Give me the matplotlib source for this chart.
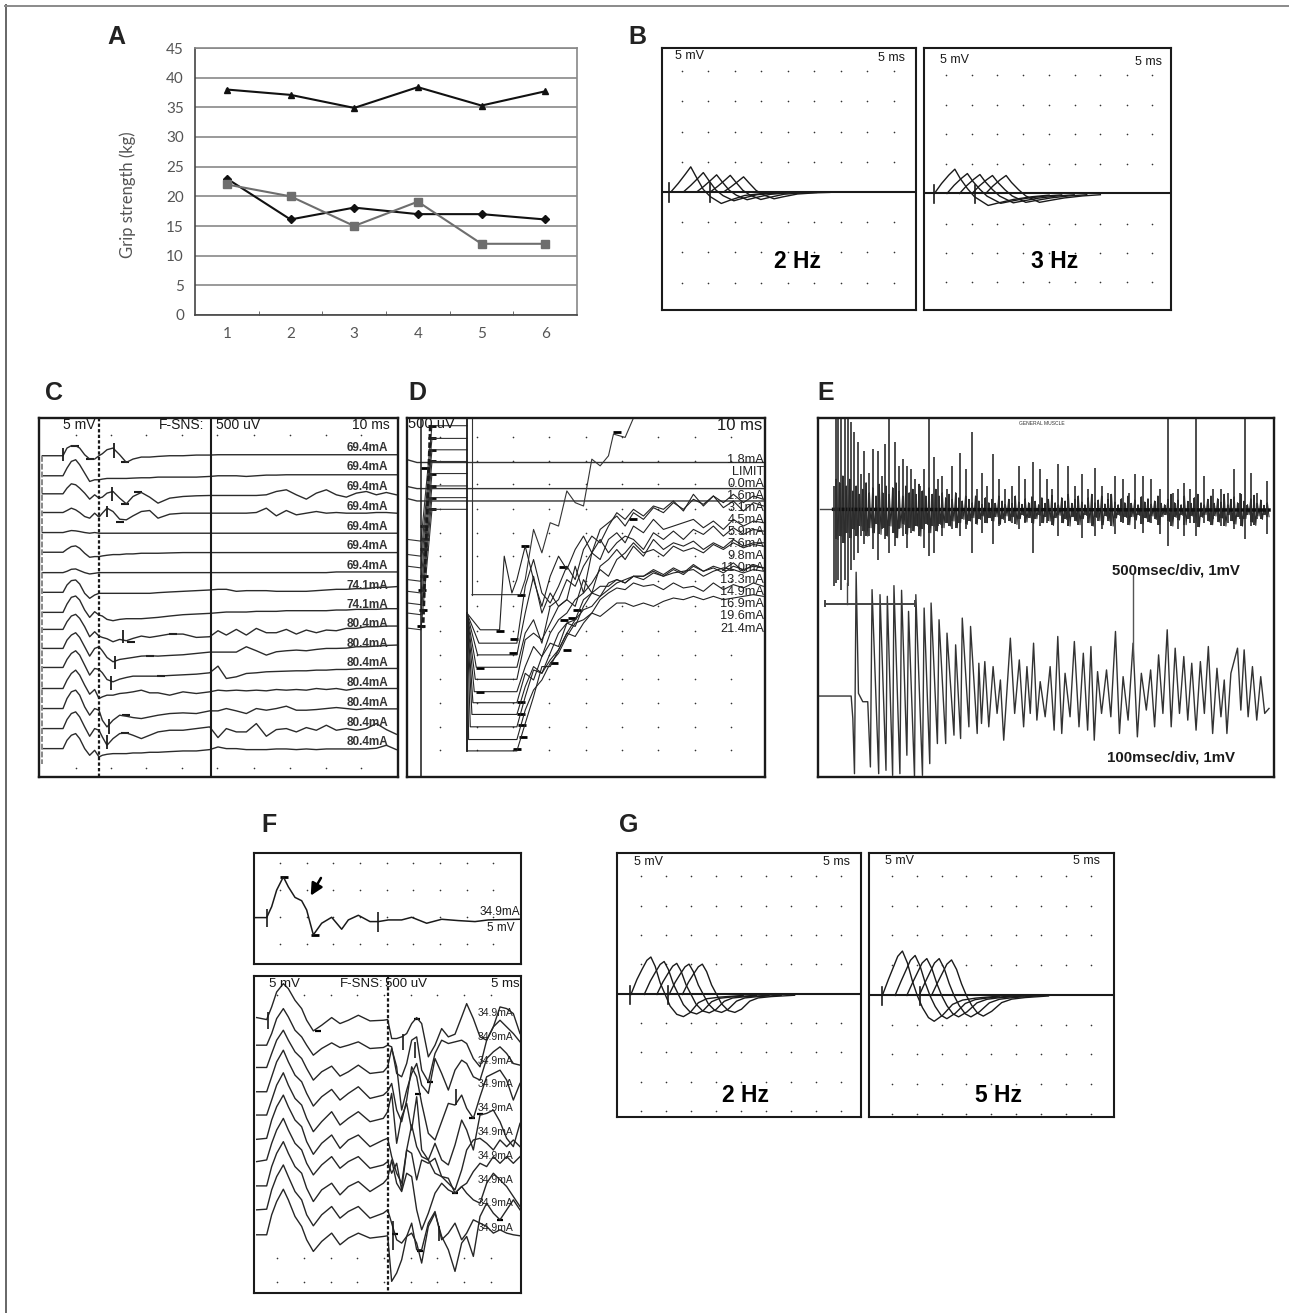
import matplotlib
matplotlib.use("Agg")
import matplotlib.pyplot as plt

W, H = 1289, 1313
INK = "#1a1a1a"
PLAIN = ["Liberation Sans", "DejaVu Sans"]

# Panel A
grip_x = [1, 2, 3, 4, 5, 6]
grip_triangle = [38, 37.1, 34.9, 38.4, 35.3, 37.7]
grip_diamond = [23, 16.1, 18.1, 17, 17, 16.1]
grip_square = [22, 20, 15, 19.1, 12, 12]

# Panels B and G: one wave, repeated at later latencies
b1_x = [145, 165, 185, 200, 215, 235, 255, 285, 310, 350, 400, 440]
b1_y = [515, 490, 462, 440, 470, 508, 530, 550, 540, 526, 520, 518]
b1_shift = [0, 35, 72, 110, 147]
b1_scale = [1, 0.77, 0.68, 0.66, 0.6]
b2_x = [880, 900, 920, 937, 952, 972, 992, 1030, 1060, 1100, 1150, 1200]
b2_y = [520, 490, 465, 447, 475, 505, 530, 556, 548, 538, 530, 525]
b2_shift = [0, 35, 70, 105, 143]
b2_scale = [1, 0.82, 0.78, 0.74, 0.74]
g1_x = [62, 80, 95, 110, 122, 135, 150, 165, 180, 200, 220, 240, 265, 290, 330, 400]
g1_y = [555, 510, 480, 452, 442, 470, 520, 555, 590, 615, 622, 610, 580, 568, 563, 558]
g1_shift = [0, 40, 78, 115, 155]
g1_scale = [1, 0.88, 0.83, 0.81, 0.81]
g2_x = [820, 838, 852, 866, 880, 895, 910, 925, 940, 958, 975, 1000, 1030, 1060, 1100, 1170]
g2_y = [558, 510, 475, 440, 424, 460, 515, 560, 595, 625, 636, 618, 585, 572, 566, 560]
g2_shift = [0, 38, 73, 110, 147]
g2_scale = [1, 0.9, 0.83, 0.83, 0.8]

b1_dots_x = [175, 248, 322, 396, 470, 544, 618, 692, 766]
b1_dots_y = [153, 243, 335, 425, 606, 697, 788]
b2_dots_x = [912, 984, 1055, 1127, 1199, 1271, 1343, 1416, 1488]
b2_dots_y = [165, 254, 342, 430, 612, 700, 785]
g1_dots_x = [92, 168, 243, 318, 393, 468, 545, 620, 695]
g1_dots_y = [198, 287, 375, 463, 640, 730, 820, 908]
g2_dots_x = [848, 923, 997, 1071, 1145, 1220, 1295, 1369, 1444]
g2_dots_y = [197, 287, 377, 466, 646, 736, 826, 917]

# Panel C
c_x = [38, 100, 112, 125, 138, 150, 165, 180, 195, 208,
       218, 232, 250, 270, 290, 310, 335, 360, 385, 420,
       460, 500, 540, 565, 590, 620, 650, 680, 710, 740,
       770, 800, 830, 860, 890, 920, 950, 980, 1010, 1040,
       1070, 1100]
c_traces = [
    [228, 228, 205, 198, 198, 205, 225, 238, 238, 228,
     222, 210, 205, 225, 248, 238, 232, 232, 230, 228,
     228, 226, 226, 225, 225, 225, 225, 225, 225, 225,
     225, 225, 225, 225, 225, 225, 225, 225, 225, 225,
     225, 225],
    [288, 288, 265, 245, 240, 255, 280, 305, 300, 300,
     298, 296, 296, 296, 296, 295, 294, 294, 292, 292,
     292, 292, 290, 288, 288, 288, 290, 288, 286, 286,
     285, 285, 285, 285, 285, 285, 285, 285, 285, 285,
     285, 285],
    [342, 342, 325, 312, 315, 325, 340, 358, 345, 355,
     352, 340, 335, 355, 372, 350, 338, 352, 370, 355,
     350, 348, 347, 347, 347, 347, 347, 347, 345, 335,
     330, 345, 358, 340, 330, 345, 352, 340, 335, 345,
     338, 345],
    [398, 398, 392, 385, 390, 398, 410, 415, 400, 412,
     400, 385, 395, 418, 420, 408, 395, 392, 415, 403,
     400, 400, 400, 400, 400, 400, 400, 398, 385, 408,
     392, 405, 400, 395, 400, 398, 400, 400, 400, 398,
     398, 400],
    [458, 458, 455, 452, 453, 455, 458, 460, 458, 460,
     460, 460, 460, 460, 460, 460, 460, 460, 460, 460,
     460, 460, 460, 460, 460, 460, 460, 460, 460, 460,
     460, 460, 460, 460, 460, 460, 460, 460, 460, 460,
     460, 460],
    [517, 517, 508, 500, 498, 505, 520, 532, 530, 530,
     528, 526, 524, 524, 522, 522, 520, 520, 520, 519,
     518, 518, 518, 518, 518, 518, 518, 518, 518, 518,
     518, 518, 518, 518, 518, 518, 518, 518, 518, 518,
     518, 518],
    [578, 578, 574, 568, 567, 572, 578, 582, 580, 578,
     578, 578, 578, 578, 578, 578, 578, 578, 578, 578,
     578, 578, 578, 578, 578, 578, 578, 578, 578, 578,
     578, 578, 578, 578, 578, 576, 576, 576, 576, 576,
     576, 576],
    [637, 637, 615, 602, 600, 612, 640, 655, 645, 640,
     640, 640, 640, 640, 640, 640, 640, 640, 638, 636,
     634, 632, 630, 628, 628, 634, 632, 632, 632, 634,
     634, 634, 634, 632, 630, 628, 628, 626, 626, 622,
     622, 620],
    [697, 697, 672, 652, 648, 660, 690, 712, 695, 705,
     708, 718, 722, 718, 716, 716, 716, 714, 712, 708,
     704, 702, 700, 698, 696, 696, 696, 694, 694, 694,
     692, 692, 692, 692, 692, 690, 690, 688, 688, 688,
     686, 686],
    [748, 748, 725, 708, 703, 715, 740, 770, 755, 768,
     772, 776, 785, 778, 782, 775, 768, 772, 768, 762,
     762, 772, 770, 752, 765, 748, 765, 745, 758, 758,
     748, 762, 750, 758, 750, 752, 745, 745, 740, 740,
     738, 738],
    [805, 805, 780, 765, 758, 772, 800, 828, 805, 800,
     812, 832, 845, 838, 835, 832, 828, 827, 828, 826,
     824, 820, 816, 816, 816, 816, 800, 812, 825, 815,
     812, 810, 812, 808, 805, 805, 804, 800, 800, 798,
     796, 795],
    [862, 862, 838, 820, 812, 825, 855, 885, 865, 868,
     878, 898, 905, 897, 892, 888, 888, 888, 888, 886,
     884, 882, 878, 858, 895, 890, 880, 878, 875, 874,
     873, 872, 872, 870, 870, 868, 868, 866, 866, 865,
     865, 865],
    [925, 925, 900, 880, 870, 885, 915, 942, 928, 955,
     950, 945, 945, 940, 938, 935, 930, 938, 938, 945,
     935, 940, 935, 930, 932, 930, 932, 930, 932, 928,
     930, 928, 930, 925, 928, 925, 930, 925, 925, 925,
     925, 925],
    [985, 985, 955, 935, 930, 945, 980, 1005, 985, 990,
     1020, 1040, 1020, 1005, 1008, 1012, 1015, 1010, 1005, 1000,
     998, 1000, 992, 992, 985, 992, 1000, 985, 990, 985,
     978, 990, 990, 988, 985, 982, 985, 988, 985, 986,
     986, 986],
    [1045, 1045, 1018, 1000, 995, 1010, 1040, 1068, 1045, 1050,
     1070, 1095, 1075, 1060, 1058, 1065, 1075, 1065, 1055, 1050,
     1050, 1045, 1040, 1072, 1045, 1055, 1055, 1030, 1068, 1048,
     1045, 1055, 1042, 1050, 1035, 1050, 1045, 1050, 1045, 1030,
     1048, 1062],
    [1105, 1105, 1080, 1065, 1060, 1075, 1105, 1125, 1110, 1130,
     1125, 1122, 1120, 1120, 1120, 1118, 1118, 1116, 1116, 1114,
     1112, 1112, 1108, 1100, 1105, 1105, 1108, 1108, 1108, 1106,
     1106, 1108, 1106, 1108, 1106, 1106, 1106, 1106, 1106, 1104,
     1095, 1108],
]
c_labels = ["69.4mA"] * 7 + ["74.1mA"] * 2 + ["80.4mA"] * 7
c_label_y = [205, 263, 322, 381, 440, 498, 557, 617, 675, 733, 791, 850, 908, 967, 1027, 1085]
c_dots_x = [140, 245, 350, 458, 563, 672, 780, 888, 995]
c_dots_y = [165, 1163]
c_bar_x = [100, 253, 248, 232, 280, 255, 243, 238, 232]
c_bar_top = [205, 190, 322, 378, 750, 828, 888, 1015, 1065]
c_bar_bottom = [245, 235, 365, 412, 790, 868, 930, 1060, 1105]
c_cursor_x = [135, 180, 285, 285, 325, 270, 305, 430, 362, 395, 290, 285]
c_cursor_y = [198, 238, 248, 372, 338, 425, 785, 762, 828, 888, 1005, 1058]

# Panel D
d_levels = [140, 178, 212, 247, 283, 320, 355, 390]
d_left_y = [480, 525, 560, 600, 635, 670, 700, 745]
d_flat_y = [250, 328, 365]
d_flat_start = [242, 322, 358]
d_x = [350, 375, 400, 425, 450, 475, 500, 525, 550, 575, 600, 625, 650, 675,
       700, 730, 760, 790, 820, 850, 880, 910, 940, 970, 1000, 1030, 1060, 1090]
d_traces = [
    [600, 500, 600, 680, 590, 530, 570, 510, 470, 520, 450, 430, 410, 440,
     400, 420, 385, 400, 370, 390, 360, 375, 350, 370, 345, 370, 350, 360],
    [790, 620, 540, 640, 670, 620, 560, 600, 510, 470, 490, 440, 400, 420,
     390, 410, 380, 390, 365, 395, 345, 380, 350, 385, 365, 395, 370, 380],
    [825, 700, 590, 700, 640, 680, 660, 560, 640, 520, 540, 480, 460, 490,
     440, 460, 420, 450, 440, 430, 420, 445, 425, 450, 420, 440, 425, 430],
    [862, 760, 720, 790, 680, 660, 600, 620, 560, 520, 480, 520, 490, 470,
     480, 510, 460, 480, 455, 480, 450, 465, 440, 470, 445, 465, 450, 455],
    [898, 780, 760, 780, 730, 680, 660, 680, 600, 640, 560, 540, 510, 540,
     500, 530, 480, 510, 490, 500, 485, 510, 490, 505, 480, 500, 490, 490],
    [935, 860, 800, 830, 760, 720, 700, 660, 640, 610, 570, 590, 540, 520,
     490, 520, 510, 530, 500, 515, 505, 520, 495, 510, 490, 505, 495, 500],
    [968, 880, 900, 830, 790, 800, 730, 740, 680, 640, 650, 610, 600, 610,
     590, 600, 580, 590, 570, 585, 560, 575, 565, 580, 560, 570, 560, 565],
    [1003, 920, 860, 880, 820, 760, 730, 720, 660, 640, 620, 620, 600, 610,
     590, 590, 575, 590, 580, 575, 570, 590, 575, 565, 570, 580, 570, 575],
    [1040, 950, 870, 880, 840, 810, 760, 720, 690, 680, 650, 630, 610, 600,
     590, 590, 570, 585, 565, 580, 555, 575, 560, 570, 550, 575, 555, 565],
    [1078, 990, 930, 900, 850, 820, 770, 730, 720, 700, 660, 640, 625, 630,
     610, 620, 615, 630, 610, 625, 620, 635, 610, 630, 615, 625, 610, 620],
    [1112, 1030, 950, 860, 860, 810, 760, 770, 730, 700, 710, 690, 670, 670,
     680, 670, 680, 665, 655, 660, 650, 660, 650, 660, 655, 650, 645, 650],
]
d_plateau = [750, 790, 825, 862, 898, 935, 968, 1003, 1040, 1078, 1112]
d_plateau_x = [240, 236, 232, 228, 225, 222, 218, 215, 210, 205, 200]
d_rise_x = [215, 360, 375, 400, 425, 450, 475, 500, 525, 550, 575, 600, 625, 640, 675, 700]
d_rise_y = [645, 645, 600, 450, 520, 430, 440, 335, 370, 380, 240, 260, 230, 165, 175, 117]
d_spike_x = [200, 240, 298, 312, 335, 350]
d_spike_y = [700, 750, 750, 530, 640, 600]
d_labels = ["1.8mA", "LIMIT", "0.0mA", "1.6mA", "3.1mA", "4.5mA", "5.9mA", "7.6mA",
            "9.8mA", "11.0mA", "13.3mA", "14.9mA", "16.9mA", "19.6mA", "21.4mA"]
d_label_y = [243, 277, 314, 349, 385, 422, 458, 493, 529, 566, 602, 638, 674, 710, 747]
d_dots_x = [120, 230, 338, 447, 557, 665, 775, 885, 993]
d_dots_y = [175, 245, 315, 390, 460, 530, 605, 680, 755, 825, 898, 968, 1040, 1110]
d_mark_x = [300, 340, 338, 240, 240, 362, 362, 365, 368, 350, 373, 362, 650, 488, 530, 515, 490, 500, 462, 698]
d_mark_y = [755, 778, 820, 863, 935, 966, 1002, 1035, 1070, 1105, 500, 646, 160, 562, 692, 716, 722, 810, 850, 418]
d_left_mark_x = [95, 95, 95, 95, 95, 95, 95, 95, 75, 70, 75, 72, 70, 65, 68, 62]
d_left_mark_y = [140, 178, 212, 247, 283, 320, 355, 390, 265, 440, 480, 510, 590, 632, 690, 740]

# Panel E
e_top_x = [72, 80, 85, 95, 105, 115, 125, 135, 145, 155, 165, 178, 190, 205, 217, 228, 240, 258,
           268, 280, 292, 305, 318, 332, 345, 360, 375, 388, 400, 415, 430, 452, 470, 490, 505,
           520, 535, 552, 570, 590, 610, 632, 650, 672, 695, 715, 732, 750, 778, 800, 820, 840,
           860, 880, 900, 920, 945, 962, 980, 1005, 1030, 1055, 1080, 1095, 1110, 1130, 1148,
           1165, 1190, 1215, 1240, 1260, 1280, 1298, 1312, 1330, 1350, 1378]
e_top_hi = [320, 120, 120, 120, 120, 120, 130, 160, 190, 285, 215, 280, 210, 215, 290, 195, 120, 190,
            260, 240, 260, 270, 300, 320, 270, 120, 235, 300, 290, 330, 260, 222, 270, 160, 330,
            280, 320, 225, 300, 330, 320, 260, 300, 250, 270, 300, 330, 255, 260, 320, 285, 330,
            265, 320, 340, 290, 300, 340, 285, 290, 300, 330, 120, 340, 330, 310, 330,
            120, 290, 330, 330, 340, 270, 340, 120, 280, 340, 305]
e_top_lo = [620, 610, 600, 630, 600, 620, 570, 540, 520, 470, 495, 470, 510, 540, 450, 480, 520, 500,
            450, 470, 505, 460, 440, 450, 505, 530, 520, 440, 470, 430, 450, 470, 450, 520, 430,
            460, 430, 495, 440, 430, 430, 450, 430, 520, 440, 430, 420, 470, 440, 420, 475, 420,
            470, 450, 420, 465, 430, 420, 450, 460, 430, 465, 500, 420, 450, 470, 430,
            470, 430, 420, 440, 430, 450, 420, 480, 440, 420, 465]
# short spikes of the dark band, one every 10 crop pixels from x = 80
e_mid_x = list(range(80, 1385, 10))
e_mid_hi = [300, 310, 290, 320, 300, 335, 320, 345, 330, 310, 340, 325, 350, 315, 340, 320, 345, 325, 310, 335,
            350, 320, 340, 330, 345, 315, 335, 350, 325, 345, 330, 350, 340, 355, 345, 360, 340, 355, 365, 350,
            360, 370, 350, 365, 375, 355, 370, 360, 372, 350, 365, 375, 360, 372, 350, 368, 375, 358, 370, 352,
            366, 376, 355, 372, 360, 348, 370, 376, 355, 365, 345, 372, 360, 350, 368, 376, 355, 345, 370, 362,
            350, 374, 360, 345, 368, 376, 358, 370, 350, 372, 362, 376, 352, 368, 358, 374, 365, 350, 372, 376,
            360, 345, 370, 362, 376, 350, 366, 372, 355, 345, 370, 376, 360, 350, 372, 358, 368, 345, 376, 360,
            352, 370, 345, 365, 376, 358, 348, 372, 362, 378, 370]
e_mid_lo = [480, 470, 490, 460, 475, 450, 470, 440, 455, 470, 445, 460, 435, 465, 445, 470, 440, 460, 475, 445,
            435, 465, 445, 455, 440, 470, 450, 435, 460, 440, 455, 435, 445, 430, 440, 425, 445, 430, 420, 435,
            425, 415, 435, 420, 410, 430, 415, 425, 412, 435, 420, 410, 425, 412, 435, 418, 408, 428, 415, 432,
            418, 408, 430, 412, 425, 438, 415, 408, 430, 420, 440, 412, 425, 436, 418, 408, 430, 440, 414, 424,
            436, 410, 425, 440, 416, 408, 428, 414, 436, 412, 422, 408, 434, 416, 428, 410, 420, 436, 412, 406,
            426, 440, 414, 422, 408, 436, 418, 410, 430, 442, 414, 406, 426, 436, 410, 428, 416, 440, 406, 424,
            434, 412, 440, 418, 406, 428, 438, 410, 420, 406, 412]
e_bot_x = [30, 125, 130, 135, 140, 147, 160, 175, 183, 188, 208, 212, 230, 234, 250, 254, 272, 277,
           293, 298, 316, 320, 340, 345, 362, 366, 385, 390, 410, 414, 435, 440, 455, 460, 480, 485,
           505, 510, 518, 528, 540, 553, 565, 575, 585, 605, 618, 632, 645, 655, 665, 675, 685, 695,
           710, 725, 737, 748, 760, 770, 785, 798, 812, 825, 838, 848, 858, 868, 880, 895, 908, 922,
           934, 945, 960, 975, 988, 1000, 1015, 1028, 1040, 1052, 1065, 1078, 1090, 1102, 1115, 1128,
           1140, 1152, 1165, 1178, 1190, 1202, 1215, 1228, 1240, 1250, 1258, 1270, 1290, 1300, 1310,
           1322, 1335, 1348, 1360, 1372, 1385]
e_bot_y = [948, 948, 1015, 1180, 578, 940, 965, 965, 1160, 630, 1180, 645, 1170, 650, 1185, 618, 1180, 632,
           1125, 695, 1190, 645, 1185, 685, 1150, 670, 1090, 720, 1090, 760, 1065, 795, 1075, 715, 1040, 740,
           1060, 850, 1030, 845, 1040, 860, 1000, 900, 1080, 775, 1000, 840, 1040, 860, 1000, 790, 1020, 905,
           1010, 860, 1050, 770, 1060, 880, 1010, 785, 1040, 820, 1050, 800, 1080, 875, 1000, 870, 1010, 755,
           1060, 890, 1020, 790, 1070, 880, 990, 870, 1040, 825, 1000, 750, 1040, 805, 1000, 830, 1020, 850,
           1050, 845, 1000, 800, 1060, 865, 1010, 900, 1060, 880, 805, 990, 810, 1010, 860, 1020,
           890, 1000, 985]

# Panel F
f_top_x = [30, 65, 80, 95, 115, 130, 150, 170, 185, 205, 230, 260, 290, 310, 340, 375, 400, 430,
           470, 500, 545, 590, 640, 690, 730, 825]
f_top_y = [323, 323, 290, 240, 200, 230, 262, 272, 300, 375, 340, 322, 358, 330, 316, 335, 335, 330,
           330, 322, 340, 328, 332, 335, 330, 328]
f_lx = [35, 65, 80, 95, 115, 130, 150, 170, 185, 205, 230, 260, 285, 310, 340, 375, 415, 428]
f_left = [
    [622, 628, 590, 545, 520, 535, 570, 595, 630, 662, 645, 622, 640, 630, 615, 632, 630, 628],
    [705, 705, 670, 625, 595, 620, 660, 680, 705, 735, 715, 698, 712, 705, 695, 715, 712, 705],
    [772, 772, 730, 690, 660, 690, 725, 745, 775, 810, 785, 768, 798, 785, 765, 790, 785, 770],
    [845, 845, 800, 755, 720, 755, 795, 815, 850, 888, 860, 838, 870, 850, 830, 865, 855, 843],
    [915, 915, 870, 825, 788, 825, 865, 885, 925, 965, 935, 905, 945, 925, 905, 935, 925, 905],
    [988, 985, 930, 890, 855, 890, 930, 950, 995, 1033, 1000, 975, 1015, 990, 975, 1010, 990, 985],
    [1055, 1050, 1000, 960, 925, 960, 1000, 1020, 1060, 1095, 1065, 1040, 1075, 1055, 1040, 1075, 1065, 1055],
    [1128, 1128, 1070, 1030, 995, 1030, 1070, 1090, 1135, 1175, 1140, 1120, 1155, 1130, 1115, 1145, 1120, 1105],
    [1200, 1198, 1140, 1100, 1065, 1100, 1145, 1170, 1215, 1248, 1215, 1190, 1225, 1205, 1190, 1225, 1210, 1200],
    [1275, 1275, 1215, 1175, 1138, 1170, 1220, 1250, 1290, 1325, 1295, 1270, 1305, 1285, 1270, 1285, 1280, 1278],
]
f_rx = [428, 440, 455, 470, 485, 500, 515, 530, 550, 570, 590, 610, 630, 650, 665, 685, 705, 725,
        745, 765, 785, 805, 825]
f_right = [
    [628, 685, 685, 680, 670, 640, 622, 640, 740, 705, 655, 680, 672, 620, 580, 625, 680, 690,
     650, 590, 595, 610, 670],
    [705, 710, 790, 800, 760, 690, 680, 780, 815, 730, 690, 700, 695, 690, 700, 745, 770, 690,
     650, 630, 650, 670, 695],
    [770, 715, 770, 900, 840, 790, 760, 825, 850, 745, 790, 840, 780, 750, 760, 800, 810, 745,
     725, 710, 730, 760, 765],
    [843, 820, 900, 935, 870, 770, 800, 880, 970, 990, 935, 880, 885, 855, 895, 925, 860, 800,
     790, 780, 810, 870, 820],
    [915, 850, 1000, 920, 880, 960, 860, 1020, 1050, 1000, 1050, 1065, 1005, 930, 960, 1020, 915, 910,
     900, 935, 985, 1010, 940],
    [985, 1040, 1090, 1120, 1020, 945, 1010, 1040, 1050, 1090, 1100, 1120, 1140, 1080, 1020, 990, 985, 1000,
     1020, 990, 1010, 990, 1010],
    [1055, 1090, 1060, 1140, 1020, 1030, 1110, 1050, 1060, 1045, 1100, 1105, 1150, 1130, 1120, 1085, 1060, 1070,
     1040, 1060, 1040, 1060, 1040],
    [1105, 1050, 1120, 1145, 1090, 1100, 1200, 1260, 1210, 1150, 1120, 1140, 1150, 1130, 1150, 1170, 1180, 1120,
     1090, 1110, 1130, 1160, 1190],
    [1200, 1240, 1290, 1300, 1280, 1270, 1300, 1360, 1250, 1210, 1280, 1320, 1385, 1300, 1280, 1340, 1220, 1180,
     1210, 1230, 1200, 1170, 1200],
    [1278, 1415, 1390, 1350, 1280, 1240, 1320, 1320, 1240, 1205, 1290, 1270, 1240, 1290, 1270, 1230, 1240, 1250,
     1270, 1260, 1270, 1275, 1278],
]
f_labels = ["34.9mA"] * 10
f_label_y = [607, 680, 752, 822, 895, 967, 1037, 1110, 1180, 1254]
f_top_dots_x = [105, 185, 265, 345, 425, 505, 585, 665, 745]
f_top_dots_y = [158, 240, 322, 403]
f_bot_dots_x = [97, 177, 257, 337, 417, 497, 577, 657, 737]
f_bot_dots_y = [555, 1345, 1418]

panel_letters = ["A", "B", "C", "D", "E", "F", "G"]
letter_x = [107, 628, 45, 408, 817, 261, 619]
letter_y = [37, 37, 393, 393, 393, 825, 825]


def add_panel(x0, y0, x1, y1, xlim=None, ylim=None, lw=1.5, color=INK):
    ax = fig.add_axes([x0 / W, 1 - y1 / H, (x1 - x0) / W, (y1 - y0) / H])
    ax.set_xticks([])
    ax.set_yticks([])
    if xlim:
        ax.set_xlim(*xlim)
        ax.set_ylim(*ylim)
    for s in ax.spines.values():
        s.set_linewidth(lw)
        s.set_color(color)
    return ax


def dots(ax, xs, ys, size=1.4):
    pts = [(x, y) for y in ys for x in xs]
    ax.scatter([p[0] for p in pts], [p[1] for p in pts], s=size, color="#333333", linewidths=0)


def waves(ax, xs, ys, shifts, scales, base, bar_x, label, label_x, label_y, scale_txt):
    ax.plot(ax.get_xlim(), [base, base], color=INK, lw=1.5)
    for sh, sc in zip(shifts, scales):
        ax.plot([x + sh for x in xs], [base + (y - base) * sc for y in ys], color=INK, lw=1.0)
    for bx in bar_x:
        ax.plot([bx, bx], [base - 25, base + 30], color=INK, lw=1.2)
    ax.text(label_x, label_y, label, ha="center", va="center", fontsize=16.5,
            fontweight="bold", family=PLAIN, color="black")
    for tx, ty, s, ha in scale_txt:
        ax.text(tx, ty, s, ha=ha, va="center", fontsize=9, family=PLAIN, color=INK)


fig = plt.figure(figsize=(W / 100, H / 100), dpi=100, facecolor="white")

# outer frame of the plate: top and left rules only
frame = fig.add_axes([0, 0, 1, 1], zorder=-1)
frame.set_xlim(0, W)
frame.set_ylim(H, 0)
frame.axis("off")
frame.plot([6, 6], [H, 5], color="#666666", lw=1.4)
frame.plot([5, W], [5.5, 5.5], color="#8a8a8a", lw=1.4)
for s, lx, ly in zip(panel_letters, letter_x, letter_y):
    frame.text(lx, ly, s, fontsize=18, fontweight="bold", family=PLAIN, color="#222222",
               ha="left", va="center")

# A
ax = fig.add_axes([195 / W, 1 - 315 / H, (577 - 195) / W, (315 - 48) / H])
ax.set_xlim(0.5, 6.5)
ax.set_ylim(0, 45)
ax.yaxis.grid(True, color="#7f7f7f", lw=1.1)
ax.set_axisbelow(True)
ax.plot(grip_x, grip_triangle, color="#111111", lw=1.5, marker="^", ms=4.5)
ax.plot(grip_x, grip_diamond, color="#111111", lw=1.5, marker="D", ms=4.5)
ax.plot(grip_x, grip_square, color="#6e6e6e", lw=1.5, marker="s", ms=6)
ax.set_yticks(range(0, 50, 5))
ax.set_xticks(grip_x)
ax.set_xticks([1.5, 2.5, 3.5, 4.5, 5.5], minor=True)
ax.tick_params(axis="x", which="major", length=0, pad=9)
ax.tick_params(axis="x", which="minor", length=3, direction="in", color="#555555")
ax.tick_params(axis="y", length=0, pad=8)
for lab in ax.get_xticklabels() + ax.get_yticklabels():
    lab.set_fontsize(11)
    lab.set_family("Lato")
    lab.set_color("#555555")
ax.set_ylabel("Grip strength (kg)", fontsize=12, family="Lato", color="#555555")
ax.yaxis.set_label_coords(-0.154, 0.45)
ax.spines["top"].set_color("#888888")
ax.spines["right"].set_color("#888888")
ax.spines["left"].set_color("#444444")
ax.spines["bottom"].set_color("#444444")
for s in ax.spines.values():
    s.set_linewidth(1.2)

# B
ax = add_panel(662, 48, 916, 310, (120, 827), (870, 83))
dots(ax, b1_dots_x, b1_dots_y)
waves(ax, b1_x, b1_y, b1_shift, b1_scale, 515, [140, 254], "2 Hz", 497, 723,
      [(155, 107, "5 mV", "left"), (795, 113, "5 ms", "right")])
ax = add_panel(924, 48, 1171, 310, (851, 1540), (870, 83))
dots(ax, b2_dots_x, b2_dots_y)
waves(ax, b2_x, b2_y, b2_shift, b2_scale, 520, [880, 994], "3 Hz", 1214, 723,
      [(895, 118, "5 mV", "left"), (1515, 125, "5 ms", "right")])

# C
ax = add_panel(39, 418, 398, 777, (28, 1105), (1190, 115), lw=1.7)
dots(ax, c_dots_x, c_dots_y)
for tr in c_traces:
    ax.plot(c_x, tr, color="#2b2b2b", lw=1.0)
ax.vlines(c_bar_x, c_bar_top, c_bar_bottom, color=INK, lw=1.3)
ax.scatter(c_cursor_x, c_cursor_y, marker="_", s=28, color=INK, linewidths=1.5)
ax.plot([38, 38], [230, 1150], color="#888888", lw=1.4, ls=(0, (3, 1)))
ax.plot([208, 208], [115, 1190], color=INK, lw=1.6, ls=(0, (1.5, 1)))
ax.plot([545, 545], [115, 1190], color=INK, lw=1.5)
for s, ly in zip(c_labels, c_label_y):
    ax.text(1075, ly, s, ha="right", va="center", fontsize=8.5, fontweight="bold",
            family=PLAIN, color="#333333")
for tx, s, ha in [(100, "5 mV", "left"), (525, "F-SNS:", "right"), (558, "500 uV", "left"),
                  (1080, "10 ms", "right")]:
    ax.text(tx, 136, s, ha=ha, va="center", fontsize=10, family=PLAIN, color=INK)

# D
ax = add_panel(407, 418, 765, 777, (20, 1095), (1190, 117), lw=1.7)
dots(ax, d_dots_x, d_dots_y)
for ly, ry in zip(d_left_y, d_levels):
    ax.plot([22, 62, 95, 200], [ly, ly + 5, ry, ry], color="#333333", lw=0.8)
for fy, sy in zip(d_flat_y, d_flat_start):
    ax.plot([22, 50, 200, 215, 1095], [sy, fy, fy, fy, fy], color="#333333", lw=1.0)
ax.plot([62, 62], [117, 1190], color=INK, lw=1.1)
ax.plot([200, 200], [117, 1112], color=INK, lw=1.3)
ax.plot(d_rise_x, d_rise_y, color="#333333", lw=0.8)
ax.plot([215, 215], [117, 645], color="#333333", lw=0.8)
ax.plot(d_spike_x + d_x[1:], d_spike_y + d_traces[0][1:], color="#222222", lw=0.8)
for tr, lev, px in zip(d_traces[1:], d_plateau[1:], d_plateau_x[1:]):
    ax.plot([200, px, 350] + d_x[1:], [700, lev, lev] + tr[1:], color="#222222", lw=0.8)
ax.scatter(d_mark_x, d_mark_y, marker="_", s=28, color="black", linewidths=2)
ax.scatter(d_left_mark_x, d_left_mark_y, marker="_", s=28, color="black", linewidths=2)
ax.plot([90, 68], [140, 745], color=INK, lw=2, ls=(0, (2, 1)))
for s, ly in zip(d_labels, d_label_y):
    ax.text(1092, ly, s, ha="right", va="center", fontsize=9.2, family=PLAIN, color="#222222")
ax.text(24, 136, "500 uV", ha="left", va="center", fontsize=10.5, family=PLAIN, color=INK)
ax.text(1088, 138, "10 ms", ha="right", va="center", fontsize=12, family=PLAIN, color=INK)

# E
ax = add_panel(818, 418, 1274, 777, (25, 1400), (1190, 117), lw=1.7)
ax.plot([30, 72], [390, 390], color="#444444", lw=1)
ax.vlines(e_mid_x, e_mid_hi, e_mid_lo, color="#111111", lw=1.2)
# the same spikes joined up, the trace runs back and forth between them
zig_x = [x + d for x in e_mid_x for d in (0, 5)]
zig_y = [v for pair in zip(e_mid_hi, e_mid_lo) for v in pair]
ax.plot(zig_x, zig_y, color="#2a2a2a", lw=0.8)
ax.plot([72, 1385], [390, 392], color="#111111", lw=2.5)
ax.vlines(e_top_x, e_top_hi, e_top_lo, color="#2e2e2e", lw=1.2)
ax.plot(e_bot_x, e_bot_y, color="#333333", lw=1.0)
ax.plot([45, 318], [672, 672], color="#444444", lw=1.4)
ax.vlines([45, 318], 662, 682, color="#444444", lw=1.4)
ax.plot([112, 112], [610, 672], color="#444444", lw=1)
ax.plot([975, 975], [585, 830], color="#555555", lw=1)
ax.text(700, 132, "GENERAL MUSCLE", ha="center", va="center", fontsize=3.6, family=PLAIN, color="#333333")
ax.text(1105, 573, "500msec/div, 1mV", ha="center", va="center", fontsize=10.8, fontweight="bold",
        family=PLAIN, color=INK)
ax.text(1090, 1133, "100msec/div, 1mV", ha="center", va="center", fontsize=10.8, fontweight="bold",
        family=PLAIN, color=INK)

# F
ax = add_panel(254, 853, 521, 964, (27, 828), (463, 128))
dots(ax, f_top_dots_x, f_top_dots_y)
ax.plot(f_top_x, f_top_y, color=INK, lw=1.1)
ax.vlines([65, 400], [298, 305], [352, 365], color=INK, lw=1.2)
ax.scatter([118, 210], [201, 376], marker="_", s=26, color="black", linewidths=2)
ax.annotate("", xy=(193, 264), xytext=(232, 196),
            arrowprops=dict(arrowstyle="-|>", color="black", lw=1.8, mutation_scale=18))
ax.text(825, 306, "34.9mA", ha="right", va="center", fontsize=8.5, family=PLAIN, color=INK)
ax.text(810, 353, "5 mV", ha="right", va="center", fontsize=8.5, family=PLAIN, color=INK)

ax = add_panel(254, 976, 521, 1293, (27, 828), (1450, 497))
dots(ax, f_bot_dots_x, f_bot_dots_y)
for lt, rt in zip(f_left, f_right):
    ax.plot(f_lx + f_rx[1:], lt + rt[1:], color="#262626", lw=1.0, clip_on=True)
ax.plot([428, 428], [497, 1450], color=INK, lw=1.6, ls=(0, (1.5, 1)))
ax.vlines([68, 475, 510, 632, 582, 445], [605, 670, 695, 838, 1250, 1235],
          [655, 718, 745, 885, 1295, 1320], color=INK, lw=1.2)
ax.scatter([220, 515, 555, 520, 680, 705, 630, 525, 450, 765], [662, 625, 815, 852, 925, 912, 1150, 1325, 1272, 1232],
           marker="_", s=22, color="black", linewidths=1.6)
for s, ly in zip(f_labels, f_label_y):
    ax.text(805, ly, s, ha="right", va="center", fontsize=7.5, family=PLAIN, color="#222222")
ax.text(72, 520, "5 mV", ha="left", va="center", fontsize=9.5, family=PLAIN, color=INK)
ax.text(285, 520, "F-SNS:", ha="left", va="center", fontsize=9.5, family=PLAIN, color=INK)
ax.text(420, 520, "500 uV", ha="left", va="center", fontsize=9.5, family=PLAIN, color=INK)
ax.text(825, 520, "5 ms", ha="right", va="center", fontsize=9.5, family=PLAIN, color=INK)

# G
ax = add_panel(617, 853, 861, 1117, (20, 755), (925, 128))
dots(ax, g1_dots_x, g1_dots_y)
waves(ax, g1_x, g1_y, g1_shift, g1_scale, 555, [58, 175], "2 Hz", 406, 860,
      [(72, 155, "5 mV", "left"), (722, 155, "5 ms", "right")])
ax = add_panel(869, 853, 1114, 1117, (780, 1513), (925, 128))
dots(ax, g2_dots_x, g2_dots_y)
waves(ax, g2_x, g2_y, g2_shift, g2_scale, 558, [818, 932], "5 Hz", 1166, 860,
      [(828, 152, "5 mV", "left"), (1472, 152, "5 ms", "right")])

fig.savefig("out.png", dpi=100)
